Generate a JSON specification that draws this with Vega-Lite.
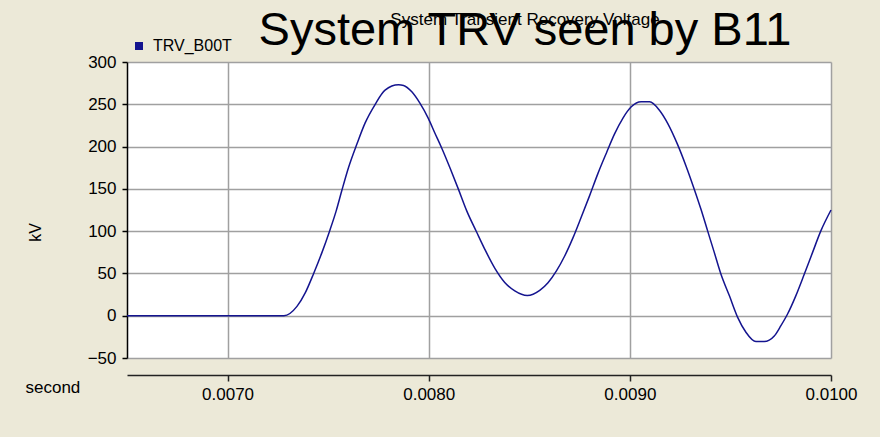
{
  "$schema": "https://vega.github.io/schema/vega-lite/v6.json",
  "width": 704,
  "height": 296,
  "autosize": {"type": "none"},
  "padding": {"left": 127, "top": 62, "right": 49, "bottom": 79},
  "background": "#ECE9D8",
  "view": {"fill": "white", "stroke": null},
  "title": {
    "text": "System TRV seen by B11",
    "subtitle": "System Transient Recovery Voltage",
    "font": "Liberation Sans",
    "fontSize": 47,
    "fontWeight": "normal",
    "color": "black",
    "subtitleFont": "Liberation Sans",
    "subtitleFontSize": 17,
    "subtitleColor": "black",
    "subtitlePadding": -43,
    "anchor": "middle",
    "dx": 46,
    "dy": 25,
    "offset": 8
  },
  "data": {
    "values": [
      {"t": 0.0065, "v": 0},
      {"t": 0.0069, "v": 0},
      {"t": 0.0072, "v": 0},
      {"t": 0.00728, "v": 0},
      {"t": 0.007345, "v": 11},
      {"t": 0.007386, "v": 27},
      {"t": 0.007428, "v": 50},
      {"t": 0.007469, "v": 74.6},
      {"t": 0.007507, "v": 100},
      {"t": 0.00754, "v": 124},
      {"t": 0.007568, "v": 148},
      {"t": 0.007601, "v": 175},
      {"t": 0.007643, "v": 203},
      {"t": 0.007684, "v": 228},
      {"t": 0.007734, "v": 250},
      {"t": 0.007783, "v": 266.7},
      {"t": 0.00785, "v": 273},
      {"t": 0.007875, "v": 272.3},
      {"t": 0.007916, "v": 264.7},
      {"t": 0.007957, "v": 251},
      {"t": 0.007998, "v": 233.4},
      {"t": 0.008031, "v": 215.8},
      {"t": 0.008065, "v": 198},
      {"t": 0.008106, "v": 174.6},
      {"t": 0.008147, "v": 150},
      {"t": 0.008189, "v": 124},
      {"t": 0.008238, "v": 99},
      {"t": 0.008279, "v": 78.5},
      {"t": 0.008329, "v": 56},
      {"t": 0.008378, "v": 39.3},
      {"t": 0.008428, "v": 29.4},
      {"t": 0.00849, "v": 24},
      {"t": 0.008552, "v": 30},
      {"t": 0.008593, "v": 39},
      {"t": 0.008635, "v": 53},
      {"t": 0.008676, "v": 70.6},
      {"t": 0.008717, "v": 92},
      {"t": 0.008759, "v": 117},
      {"t": 0.0088, "v": 142},
      {"t": 0.008841, "v": 168},
      {"t": 0.008883, "v": 192.2},
      {"t": 0.008924, "v": 215},
      {"t": 0.008965, "v": 233.4},
      {"t": 0.009007, "v": 247},
      {"t": 0.009056, "v": 253},
      {"t": 0.009098, "v": 253},
      {"t": 0.009147, "v": 243},
      {"t": 0.009188, "v": 227.5},
      {"t": 0.009238, "v": 202},
      {"t": 0.00928, "v": 176.5},
      {"t": 0.009321, "v": 149},
      {"t": 0.009354, "v": 125.5},
      {"t": 0.009387, "v": 100},
      {"t": 0.00942, "v": 74.6},
      {"t": 0.009453, "v": 49},
      {"t": 0.009495, "v": 23.5},
      {"t": 0.009536, "v": -1.9},
      {"t": 0.009577, "v": -19.5},
      {"t": 0.009627, "v": -30.6},
      {"t": 0.009668, "v": -30.6},
      {"t": 0.009718, "v": -24},
      {"t": 0.009751, "v": -11.8},
      {"t": 0.009784, "v": 2},
      {"t": 0.009825, "v": 23.5},
      {"t": 0.009867, "v": 49},
      {"t": 0.009908, "v": 74.6},
      {"t": 0.009949, "v": 100},
      {"t": 0.01, "v": 125}
    ]
  },
  "mark": {"type": "line", "strokeWidth": 1.5, "interpolate": "monotone"},
  "encoding": {
    "x": {
      "field": "t",
      "type": "quantitative",
      "scale": {"domain": [0.0065, 0.01], "nice": false, "zero": false},
      "axis": {
        "values": [0.007, 0.008, 0.009, 0.01],
        "format": ".4f",
        "offset": 17,
        "domainColor": "#222222",
        "domainWidth": 1.5,
        "tickColor": "#222222",
        "tickSize": 6,
        "tickWidth": 1.5,
        "labelFont": "Liberation Sans",
        "labelFontSize": 17,
        "labelColor": "black",
        "labelPadding": 5,
        "labelFlush": false,
        "labelOverlap": false,
        "gridColor": "#A0A0A0",
        "gridWidth": 1.5,
        "gridOpacity": 1,
        "title": "second",
        "titleFont": "Liberation Sans",
        "titleFontSize": 17,
        "titleFontWeight": "normal",
        "titleColor": "black",
        "titleX": -102,
        "titleY": 12,
        "titleAlign": "left",
        "titleBaseline": "middle"
      }
    },
    "y": {
      "field": "v",
      "type": "quantitative",
      "scale": {"domain": [-50, 300], "nice": false},
      "axis": {
        "values": [-50, 0, 50, 100, 150, 200, 250, 300],
        "domainColor": "black",
        "domainWidth": 1.5,
        "tickColor": "black",
        "tickSize": 5,
        "tickWidth": 1.5,
        "labelFont": "Liberation Sans",
        "labelFontSize": 17,
        "labelColor": "black",
        "labelPadding": 6,
        "labelFlush": false,
        "labelOverlap": false,
        "gridColor": "#A0A0A0",
        "gridWidth": 1.5,
        "gridOpacity": 1,
        "title": "kV",
        "titleFont": "Liberation Sans",
        "titleFontSize": 16,
        "titleFontWeight": "normal",
        "titleColor": "black",
        "titleX": -92,
        "titleY": 170,
        "titleAlign": "center",
        "titleBaseline": "middle"
      }
    },
    "color": {
      "datum": "TRV_B00T",
      "scale": {"range": ["#14148F"]},
      "legend": {
        "orient": "none",
        "legendX": 4,
        "legendY": -24,
        "title": null,
        "padding": 0,
        "labelFont": "Liberation Sans",
        "labelFontSize": 16,
        "labelColor": "black",
        "labelOffset": 6,
        "symbolType": "square",
        "symbolSize": 64,
        "symbolFillColor": "#14148F",
        "symbolStrokeWidth": 0
      }
    }
  }
}
